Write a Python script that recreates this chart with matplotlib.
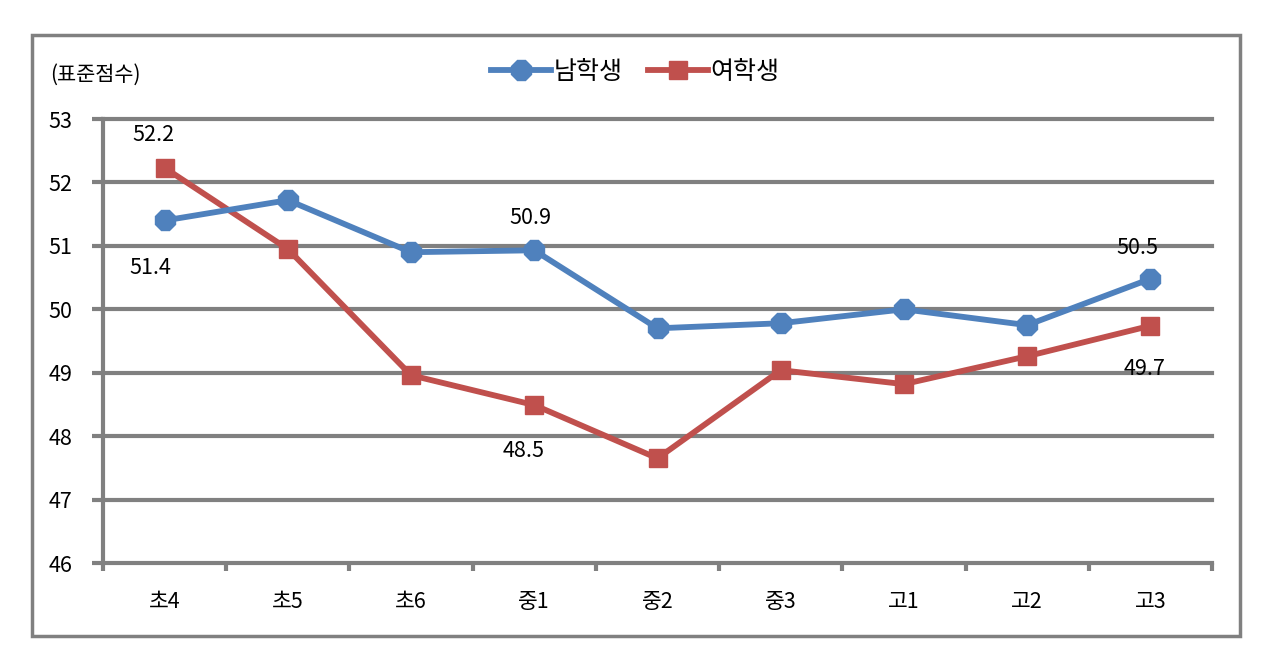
import matplotlib
matplotlib.use("Agg")
import matplotlib.pyplot as plt
from matplotlib.patches import Rectangle

plt.rcParams['font.family'] = ['Noto Sans CJK KR', 'DejaVu Sans']

grades = ['초4', '초5', '초6', '중1', '중2', '중3', '고1', '고2', '고3']
male = [51.4, 51.72, 50.9, 50.93, 49.7, 49.78, 50.0, 49.75, 50.48]
female = [52.23, 50.95, 48.96, 48.49, 47.65, 49.04, 48.82, 49.26, 49.74]

# (index, series, text, dx, dy) offsets in points
labels = [(0, 'f', '52.2', -8, 24), (0, 'm', '51.4', -10, -34),
          (3, 'm', '50.9', -3, 23), (3, 'f', '48.5', -8, -33),
          (8, 'm', '50.5', -9, 22), (8, 'f', '49.7', -4, -31)]

blue = '#4F81BD'
red = '#C0504D'
grey = '#808080'

fig = plt.figure(figsize=(12.78, 6.56), dpi=100)
ax = fig.add_axes([103/1278, 1-563/656, (1212-103)/1278, (563-119)/656])

x = list(range(len(grades)))
ax.plot(x, male, color=blue, lw=4.2, marker='8', ms=15, label='남학생', zorder=4)
ax.plot(x, female, color=red, lw=4.2, marker='s', ms=13, label='여학생', zorder=3)

ax.set_xlim(-0.5, 8.5)
ax.set_ylim(46, 53)
ax.set_yticks(range(46, 54))
ax.set_xticks([i + 0.5 for i in range(-1, 9)])
ax.set_xticklabels([])
ax.set_xticks(x, minor=True)
ax.set_xticklabels(grades, minor=True, fontsize=15.5)
ax.tick_params(axis='x', which='minor', length=0, pad=20)
ax.tick_params(axis='x', which='major', length=6, width=3, color=grey, direction='out')
ax.tick_params(axis='y', length=8, width=3, color=grey, labelsize=15.5, pad=14)

ax.grid(axis='y', color=grey, lw=3)
for gl in ax.get_ygridlines():
    gl.set_clip_on(False)
for s in ['top', 'right', 'bottom']:
    ax.spines[s].set_visible(False)
ax.spines['left'].set_color(grey)
ax.spines['left'].set_linewidth(3)
ax.set_axisbelow(True)

for i, ser, txt, dx, dy in labels:
    yv = male[i] if ser == 'm' else female[i]
    ax.annotate(txt, (i, yv), xytext=(dx, dy), textcoords='offset points',
                ha='center', va='center', fontsize=15.5)

fig.text(50/1278, 1-75/656, '(표준점수)', fontsize=15, va='center', ha='left')
leg = fig.legend(loc='center', bbox_to_anchor=(635/1278, 1-72/656), ncol=2,
                 frameon=False, fontsize=18, handlelength=2.4, columnspacing=1.0,
                 handletextpad=0.1)

fig.patches.append(Rectangle((32/1278, 1-636/656), (1240-32)/1278, (636-35)/656,
                             transform=fig.transFigure, fill=False,
                             edgecolor=grey, lw=2.5))

fig.savefig('out.png', dpi=100)
